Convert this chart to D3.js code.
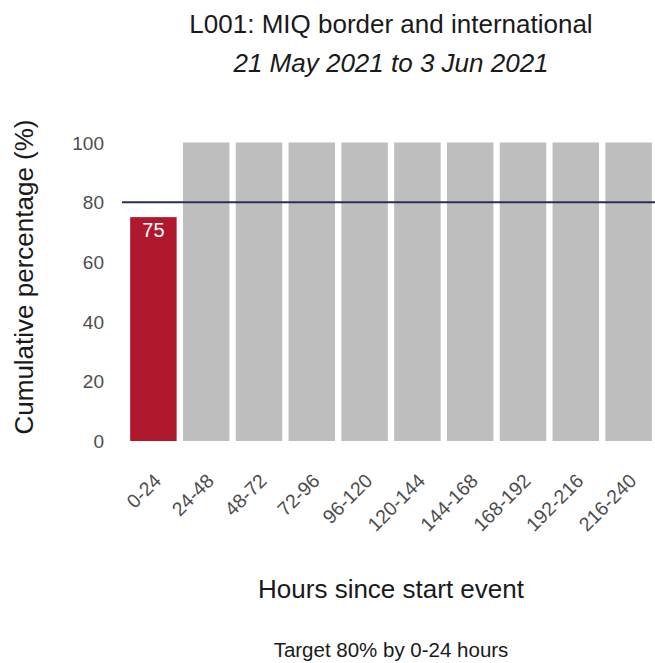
<!DOCTYPE html>
<html>
<head>
<meta charset="utf-8">
<script src="https://cdn.jsdelivr.net/npm/d3@7"></script>
<style>
  body { margin: 0; background: #fff; }
  text { font-family: "Liberation Sans", Arial, sans-serif; }
</style>
</head>
<body>
<script>
var categories = ["0-24", "24-48", "48-72", "72-96", "96-120", "120-144", "144-168", "168-192", "192-216", "216-240"];
var values = [75, 100, 100, 100, 100, 100, 100, 100, 100, 100];
var yTicks = [0, 20, 40, 60, 80, 100];
var target = 80;
var labelled = [0];

var width = 655, height = 663;

var svg = d3.select("body").append("svg")
  .attr("width", width)
  .attr("height", height);

var xScale = d3.scaleBand()
  .domain(categories)
  .range([127, 655])
  .paddingInner(0.12)
  .paddingOuter(0.06);

var yScale = d3.scaleLinear()
  .domain([0, 100])
  .range([441, 142.5]);

// titles
svg.append("text")
  .attr("x", 391).attr("y", 33)
  .attr("text-anchor", "middle")
  .style("font-size", "26px")
  .attr("fill", "#1a1a1a")
  .text("L001: MIQ border and international");

svg.append("text")
  .attr("x", 391).attr("y", 72)
  .attr("text-anchor", "middle")
  .style("font-size", "26px")
  .style("font-style", "italic")
  .attr("fill", "#1a1a1a")
  .text("21 May 2021 to 3 Jun 2021");

// bars
svg.selectAll("rect.bar")
  .data(values)
  .enter()
  .append("rect")
  .attr("class", "bar")
  .attr("x", (d, i) => xScale(categories[i]))
  .attr("y", d => yScale(d))
  .attr("width", xScale.bandwidth())
  .attr("height", d => yScale(0) - yScale(d))
  .attr("fill", (d, i) => i == 0 ? "#B0182D" : "#BEBEBE");

// value label
svg.selectAll("text.val")
  .data(labelled)
  .enter()
  .append("text")
  .attr("class", "val")
  .attr("x", i => xScale(categories[i]) + xScale.bandwidth() / 2)
  .attr("y", i => yScale(values[i]) + 20)
  .attr("text-anchor", "middle")
  .style("font-size", "20px")
  .attr("fill", "#fff")
  .text(i => values[i]);

// target line
svg.append("line")
  .attr("x1", 122).attr("x2", 655)
  .attr("y1", yScale(target)).attr("y2", yScale(target))
  .attr("stroke", "#26305E")
  .attr("stroke-width", 2);

// y axis
var yAxis = d3.axisLeft(yScale).tickValues(yTicks).tickSize(0).tickPadding(0);
var gy = svg.append("g")
  .attr("transform", "translate(104,0)")
  .call(yAxis);
gy.select(".domain").remove();
gy.selectAll("text")
  .style("font-size", "19px")
  .attr("fill", "#4d4d4d")
  .attr("dy", "0.35em");

// x axis
var xAxis = d3.axisBottom(xScale).tickSize(0).tickPadding(0);
var gx = svg.append("g")
  .attr("transform", "translate(0,441)")
  .call(xAxis);
gx.select(".domain").remove();
gx.selectAll("text")
  .style("font-size", "19.5px")
  .attr("fill", "#4d4d4d")
  .attr("text-anchor", "end")
  .attr("dy", null)
  .attr("y", 0)
  .attr("transform", "translate(9,41) rotate(-45)");

// axis titles
svg.append("text")
  .attr("transform", "translate(33,277) rotate(-90)")
  .attr("text-anchor", "middle")
  .style("font-size", "26px")
  .attr("fill", "#1a1a1a")
  .text("Cumulative percentage (%)");

svg.append("text")
  .attr("x", 391).attr("y", 598)
  .attr("text-anchor", "middle")
  .style("font-size", "26px")
  .attr("fill", "#1a1a1a")
  .text("Hours since start event");

svg.append("text")
  .attr("x", 391).attr("y", 657)
  .attr("text-anchor", "middle")
  .style("font-size", "20.5px")
  .attr("fill", "#1a1a1a")
  .text("Target 80% by 0-24 hours");
</script>
</body>
</html>
